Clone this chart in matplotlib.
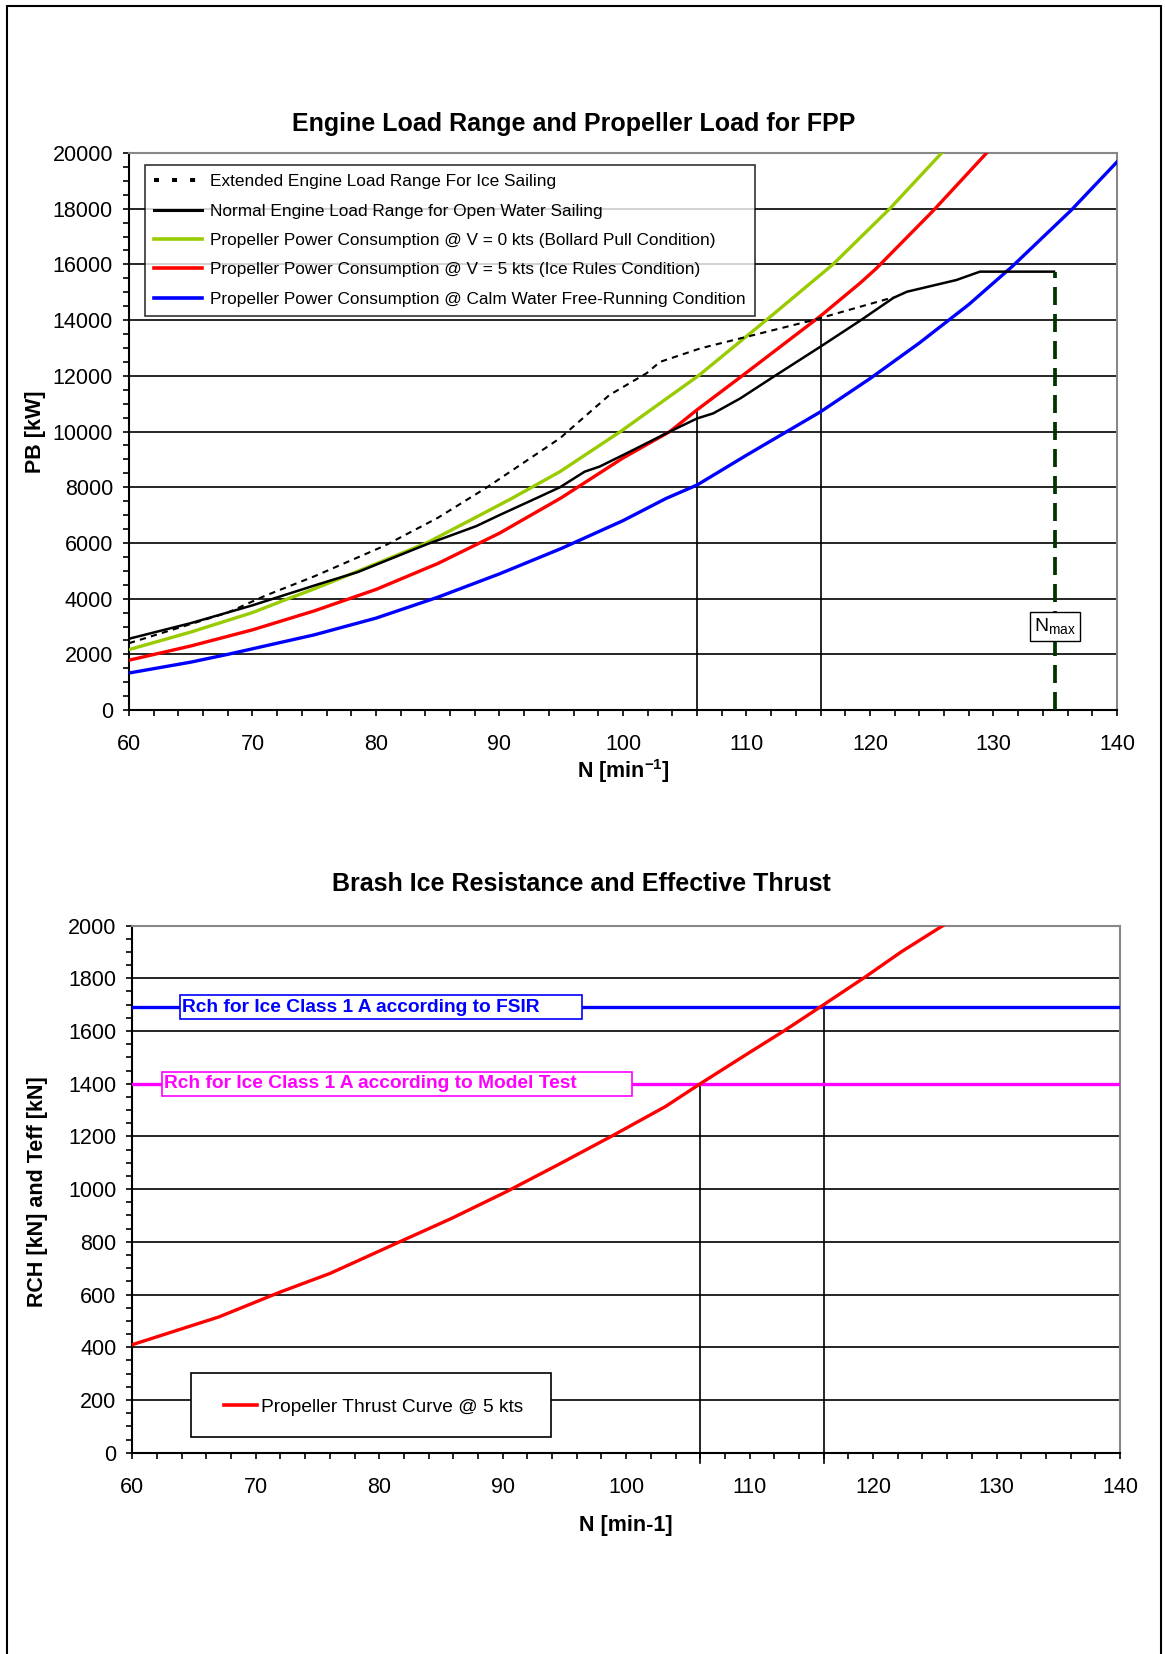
import matplotlib
matplotlib.use('Agg')
import matplotlib.pyplot as plt
import numpy as np
from matplotlib.lines import Line2D
from matplotlib.patches import Rectangle
from matplotlib.ticker import MultipleLocator

plt.rcParams['font.family'] = ['Liberation Sans', 'DejaVu Sans']
plt.rcParams['mathtext.fontset'] = 'custom'
plt.rcParams['mathtext.rm'] = 'Liberation Sans'
plt.rcParams['mathtext.bf'] = 'Liberation Sans:bold'

# ---- Engine load range / propeller power (kW vs rpm) ----
n_ext = [60, 64, 68, 71, 75, 80.7, 85, 89, 94.9, 98.9, 101.9, 103, 106.3, 110, 115.4,
         119.2, 121.9]
pb_ext = [2400, 2950, 3500, 4100, 4800, 5900, 6900, 8000, 9760, 11310, 12090, 12500,
          12990, 13400, 14000, 14480, 14820]

n_norm = [60, 65, 70, 75, 78.5, 84.1, 88.1, 90, 93.1, 94.9, 96.9, 98.1, 100.3, 103.8, 106,
          107.3, 109.5, 112.2, 116, 119.2, 121.9, 123, 127, 128.9, 134.9]
pb_norm = [2560, 3120, 3760, 4470, 4950, 5950, 6600, 7000, 7630, 8000, 8560, 8740, 9220,
           10000, 10470, 10650, 11190, 11970, 13050, 13980, 14800, 15020, 15440, 15740, 15740]

n_bollard = [60, 65, 70, 72.9, 75, 80, 84.1, 88, 91, 94.9, 99.8, 106.1, 111.6, 117, 121.6,
             125.8, 127]
pb_bollard = [2170, 2800, 3500, 4000, 4350, 5250, 6000, 6900, 7600, 8560, 10000, 12000,
              14000, 16000, 18000, 20000, 20600]

n_ice = [60, 65, 70, 75, 80, 85, 90, 95, 100, 103.8, 106, 109.8, 116, 119.2, 120.5, 125.1,
         129.4, 131]
pb_ice = [1790, 2300, 2880, 3560, 4330, 5260, 6350, 7620, 9050, 10000, 10780, 12050,
          14150, 15330, 15850, 17920, 19980, 20700]

n_free = [60, 65, 68, 70, 75, 80, 85, 90, 95, 100, 103.5, 106, 110, 116, 120, 124, 128,
          131.5, 136.3, 140]
pb_free = [1330, 1720, 2000, 2200, 2700, 3300, 4050, 4890, 5800, 6800, 7600, 8080, 9150,
           10710, 11900, 13180, 14560, 15920, 17950, 19680]

n_max = 135
pb_max = 15740

# ---- Brash ice resistance / thrust (kN vs rpm) ----
n_thrust = [60, 67, 72, 76, 81.5, 85.9, 90.2, 94.5, 98.9, 103.2, 106, 109.7, 112.8, 116,
            119.3, 122.3, 126]
t_thrust = [410, 515, 610, 680, 797, 890, 988, 1093, 1203, 1314, 1400, 1510, 1601, 1700,
            1803, 1901, 2010]

rch_fsir = 1690
rch_model = 1400
n_model = 106   # thrust meets model test resistance
n_fsir = 116    # thrust meets FSIR resistance

GREEN = '#99CC00'
RED = '#FF0000'
BLUE = '#0000FF'
MAGENTA = '#FF00FF'
DARKGREEN = '#003300'

TICK_FS = 15.5
LABEL_FS = 15.5
TITLE_FS = 18


def style_axes(ax, ymax, ymajor, yminor):
    ax.set_xlim(60, 140)
    ax.set_ylim(0, ymax)
    ax.xaxis.set_major_locator(MultipleLocator(10))
    ax.xaxis.set_minor_locator(MultipleLocator(2))
    ax.yaxis.set_major_locator(MultipleLocator(ymajor))
    ax.yaxis.set_minor_locator(MultipleLocator(yminor))
    ax.grid(axis='y', which='major', color='black', lw=1.2, zorder=1)
    ax.tick_params(which='both', direction='out', length=4.5, width=1.2, labelsize=TICK_FS)
    ax.tick_params(axis='x', which='major', pad=13)
    ax.tick_params(axis='y', which='major', pad=7)
    for side in ['left', 'bottom']:
        ax.spines[side].set_linewidth(1.5)
        ax.spines[side].set_color('black')
    for side in ['top', 'right']:
        ax.spines[side].set_linewidth(1.5)
        ax.spines[side].set_color('#888888')


fig = plt.figure(figsize=(11.65, 16.54), dpi=100)

# page frame
fig.add_artist(Rectangle((7 / 1165, -0.01), 1154 / 1165, 1 - 6 / 1654 + 0.01,
                         transform=fig.transFigure, fill=False, ec='black', lw=1.5))

# ================= top chart =================
ax1 = fig.add_axes([0.1107, 0.5707, 0.8481, 0.3368])
style_axes(ax1, 20000, 2000, 500)

ax1.plot(n_ext, pb_ext, color='black', lw=1.5, dashes=(3, 2.5), zorder=4)
ax1.plot(n_norm, pb_norm, color='black', lw=1.8, zorder=4)
ax1.plot(n_bollard, pb_bollard, color=GREEN, lw=2.4, zorder=3)
ax1.plot(n_ice, pb_ice, color=RED, lw=2.4, zorder=3)
ax1.plot(n_free, pb_free, color=BLUE, lw=2.4, zorder=3)

# rpm markers up to the ice rules curve
for n in [n_model, n_fsir]:
    ax1.plot([n, n], [0, np.interp(n, n_ice, pb_ice)], color='black', lw=1.2, zorder=2)

ax1.plot([n_max, n_max], [0, pb_max], color=DARKGREEN, lw=2.7, dashes=(4.8, 2.4), zorder=5)
ax1.text(n_max, 3000, r'N$_{\mathrm{max}}$', fontsize=14, ha='center', va='center', zorder=6,
         bbox=dict(boxstyle='square,pad=0.2', fc='white', ec='black', lw=1))

handles = [
    Line2D([], [], color='black', lw=2.9, dashes=(1.24, 3.24)),
    Line2D([], [], color='black', lw=2.2),
    Line2D([], [], color=GREEN, lw=2.6),
    Line2D([], [], color=RED, lw=2.6),
    Line2D([], [], color=BLUE, lw=2.6),
]
labels = [
    'Extended Engine Load Range For Ice Sailing',
    'Normal Engine Load Range for Open Water Sailing',
    'Propeller Power Consumption @ V = 0 kts (Bollard Pull Condition)',
    'Propeller Power Consumption @ V = 5 kts (Ice Rules Condition)',
    'Propeller Power Consumption @ Calm Water Free-Running Condition',
]
leg = ax1.legend(handles, labels, loc='upper left', bbox_to_anchor=(0.016, 0.979),
                 borderaxespad=0, fontsize=12.4, frameon=True, fancybox=False,
                 handlelength=2.8, handletextpad=0.45, labelspacing=0.83, borderpad=0.55)
leg.get_frame().set_edgecolor('black')
leg.get_frame().set_linewidth(1.2)
leg.set_zorder(7)

ax1.set_title('Engine Load Range and Propeller Load for FPP', fontsize=TITLE_FS,
              fontweight='bold', pad=16, x=0.45)
ax1.set_xlabel(r'N [min$^{\mathbf{-1}}$]', fontsize=LABEL_FS, fontweight='bold', labelpad=1)
ax1.set_ylabel('PB [kW]', fontsize=LABEL_FS, fontweight='bold')
ax1.yaxis.set_label_coords(-0.084, 0.5)

# ================= bottom chart =================
ax2 = fig.add_axes([0.1136, 0.1217, 0.8478, 0.3187])
style_axes(ax2, 2000, 200, 50)

ax2.plot(n_thrust, t_thrust, color=RED, lw=2.4, zorder=4)
ax2.axhline(rch_fsir, color=BLUE, lw=2.4, zorder=3)
ax2.axhline(rch_model, color=MAGENTA, lw=2.4, zorder=3)
ax2.plot([n_model, n_model], [-40, rch_model], color='black', lw=1.2, zorder=2, clip_on=False)
ax2.plot([n_fsir, n_fsir], [-40, rch_fsir], color='black', lw=1.2, zorder=2, clip_on=False)

# labelled boxes on the resistance levels
ax2.add_patch(Rectangle((63.85, rch_fsir - 46), 32.55, 94, fc='white', ec=BLUE, lw=1.2, zorder=5))
ax2.text(64.0, rch_fsir, 'Rch for Ice Class 1 A according to FSIR', color=BLUE,
         fontsize=13.8, fontweight='bold', va='center', ha='left', zorder=6)
ax2.add_patch(Rectangle((62.4, rch_model - 46), 38.1, 92, fc='white', ec=MAGENTA, lw=1.2, zorder=5))
ax2.text(62.55, rch_model, 'Rch for Ice Class 1 A according to Model Test', color=MAGENTA,
         fontsize=13.8, fontweight='bold', va='center', ha='left', zorder=6)

ax2.add_patch(Rectangle((0.059, 0.03), 0.365, 0.122, transform=ax2.transAxes,
                        fc='white', ec='black', lw=1.2, zorder=5))
leg2 = ax2.legend([Line2D([], [], color=RED, lw=2.6)], ['Propeller Thrust Curve @ 5 kts'],
                  loc='center left', bbox_to_anchor=(0.093, 0.087), borderaxespad=0,
                  frameon=False, fontsize=13.8, handlelength=1.7, handletextpad=0.2, borderpad=0)
leg2.set_zorder(6)

ax2.set_title('Brash Ice Resistance and Effective Thrust', fontsize=TITLE_FS,
              fontweight='bold', pad=25, x=0.455)
ax2.set_xlabel('N [min-1]', fontsize=LABEL_FS, fontweight='bold', labelpad=12)
ax2.set_ylabel('RCH [kN] and Teff [kN]', fontsize=LABEL_FS, fontweight='bold')
ax2.yaxis.set_label_coords(-0.085, 0.495)

fig.savefig('out.png', dpi=100)
